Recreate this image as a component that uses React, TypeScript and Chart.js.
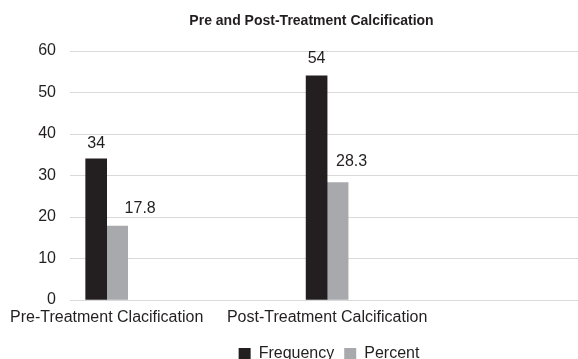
import React, { useEffect, useRef } from 'react';
import { Chart, registerables } from 'chart.js';

Chart.register(...registerables);

// ---- data ----
const categories = ['Pre-Treatment Clacification', 'Post-Treatment Calcification'];
const seriesNames = ['Frequency', 'Percent'];
const frequency = [34, 54];
const percent = [17.8, 28.3];
const yTickValues = [0, 10, 20, 30, 40, 50, 60];
const chartTitle = 'Pre and Post-Treatment Calcification';

// ---- style ----
const COLORS = ['#231f20', '#a7a9ac'];
const TEXT = '#231f20';
const FONT = "'Liberation Sans', Arial, Helvetica, sans-serif";
const W = 623;
const H = 372;
// label placement tweaks per dataset / point (pixels)
const LABEL_DX = [[0, 0], [23, 14]];
const LABEL_GAP = [[11, 13], [13, 17]];

const fmt = (v: number) => (Number.isInteger(v) ? String(v) : v.toFixed(1));

const valueLabels = {
  id: 'valueLabels',
  afterDatasetsDraw(chart: any) {
    const ctx = chart.ctx;
    ctx.save();
    ctx.font = `16px ${FONT}`;
    ctx.fillStyle = TEXT;
    ctx.textAlign = 'center';
    ctx.textBaseline = 'alphabetic';
    chart.data.datasets.forEach((ds: any, di: number) => {
      const meta = chart.getDatasetMeta(di);
      meta.data.forEach((el: any, i: number) => {
        const v = ds.data[i].y;
        ctx.fillText(fmt(v), el.x + LABEL_DX[di][i], el.y - LABEL_GAP[di][i]);
      });
    });
    ctx.restore();
  },
};

export default function App() {
  const ref = useRef<HTMLCanvasElement | null>(null);

  useEffect(() => {
    if (!ref.current) return;
    const series = [frequency, percent];
    const chart = new Chart(ref.current, {
      type: 'bar',
      data: {
        datasets: series.map((vals, si) => ({
          label: seriesNames[si],
          data: vals.map((y, i) => ({ x: i, y })),
          backgroundColor: COLORS[si],
          borderWidth: 0,
          barThickness: 21,
        })),
      },
      options: {
        responsive: false,
        animation: false,
        devicePixelRatio: 1,
        layout: { padding: 0 },
        plugins: {
          title: {
            display: true,
            text: chartTitle,
            color: TEXT,
            font: { family: FONT, size: 14, weight: 'bold' },
            padding: { top: 12.7, bottom: 21.5 },
          },
          legend: {
            position: 'bottom',
            fullSize: false,
            labels: {
              color: TEXT,
              font: { family: FONT, size: 16 },
              boxWidth: 12,
              boxHeight: 12,
              padding: 10,
            },
          },
          tooltip: { enabled: false },
        },
        scales: {
          x: {
            type: 'linear',
            bounds: 'data',
            offset: false,
            min: -0.1664,
            max: 2.1836,
            grid: { display: false, drawTicks: false },
            border: { display: false },
            afterBuildTicks: (s: any) => {
              s.ticks = categories.map((_, i) => ({ value: i }));
            },
            ticks: {
              autoSkip: false,
              maxRotation: 0,
              minRotation: 0,
              color: TEXT,
              font: { family: FONT, size: 16 },
              padding: 8,
              callback: (v: any) => categories[Math.round(Number(v))] ?? '',
            },
            afterFit: (s: any) => {
              s.height = 36;
              s.paddingLeft = 0;
              s.paddingRight = 0;
            },
          },
          y: {
            min: 0,
            max: 60,
            grid: { color: '#d9d9d9', drawTicks: false, lineWidth: 1 },
            border: { display: false },
            afterBuildTicks: (s: any) => {
              s.ticks = yTickValues.map((value) => ({ value }));
            },
            ticks: {
              color: TEXT,
              font: { family: FONT, size: 16 },
              padding: 14,
            },
            afterFit: (s: any) => {
              s.width = 70;
            },
          },
          yRight: {
            type: 'linear',
            position: 'right',
            display: true,
            grid: { display: false, drawTicks: false },
            border: { display: false },
            ticks: { display: false },
            afterFit: (s: any) => {
              s.width = 35;
            },
          },
        },
      },
      plugins: [valueLabels],
    });
    return () => chart.destroy();
  }, []);

  return (
    <div
      style={{
        position: 'fixed',
        left: 0,
        top: 0,
        width: 578,
        height: 359,
        overflow: 'hidden',
        background: '#fff',
      }}
    >
      <canvas ref={ref} width={W} height={H} style={{ display: 'block', width: W, height: H }} />
    </div>
  );
}
